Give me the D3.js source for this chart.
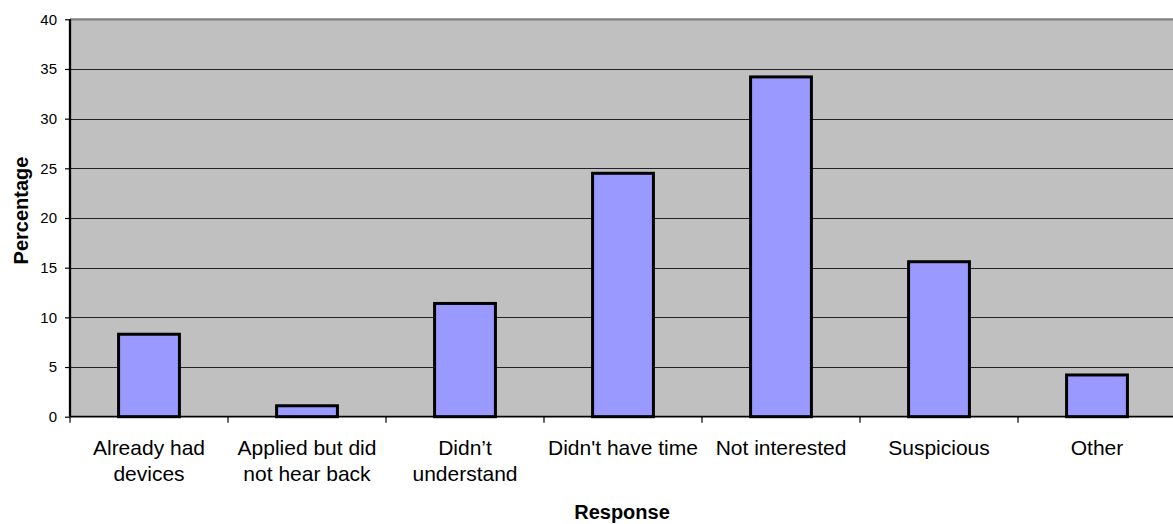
<!DOCTYPE html>
<html><head><meta charset="utf-8">
<script src="https://cdn.jsdelivr.net/npm/d3@7"></script>
<style>body{margin:0;background:#fff}svg{display:block}text{font-family:"Liberation Sans",Arial,sans-serif}</style>
</head><body><svg id="c" width="1173" height="524"></svg>
<script>
const categories = ["Already had|devices","Applied but did|not hear back","Didn’t|understand","Didn't have time","Not interested","Suspicious","Other"];
const values = [8.3, 1.1, 11.4, 24.5, 34.2, 15.6, 4.2];
const yTicks = [0,5,10,15,20,25,30,35,40];
const yTitle = "Percentage";
const xTitle = "Response";

const svg = d3.select("#c");
const L = 70, R = 1176, T = 19.3, B = 416.7;
const x = d3.scaleBand().domain(categories).range([L, R]).padding(0);
const y = d3.scaleLinear().domain([0, 40]).range([B, T]);

svg.append("rect").attr("x", L).attr("y", T).attr("width", R - L).attr("height", B - T).attr("fill", "#c0c0c0");

// gridlines
svg.append("g").selectAll("line").data(yTicks.filter(d => d > 0 && d < 40)).join("line")
  .attr("x1", L).attr("x2", R).attr("y1", d => Math.round(y(d)) + 0.5).attr("y2", d => Math.round(y(d)) + 0.5)
  .attr("stroke", "#222").attr("stroke-width", 1);
// top border
svg.append("line").attr("x1", L).attr("x2", R).attr("y1", T).attr("y2", T).attr("stroke", "#808080").attr("stroke-width", 2.3);

// bars
const bw = x.bandwidth() * 0.385;
svg.append("g").selectAll("rect").data(values).join("rect")
  .attr("x", (d, i) => x(categories[i]) + (x.bandwidth() - bw) / 2)
  .attr("y", d => y(d))
  .attr("width", bw)
  .attr("height", d => y(0) - y(d))
  .attr("fill", "#9999ff").attr("stroke", "#000").attr("stroke-width", 3);

// y axis
const ya = svg.append("g").attr("transform", `translate(${L},0)`)
  .call(d3.axisLeft(y).tickValues(yTicks).tickSize(5).tickPadding(8).tickFormat(d3.format("d")));
ya.attr("font-size", null).attr("font-family", null);
ya.select(".domain").attr("stroke", "#000").attr("stroke-width", 2.3).attr("d", `M0,${T}V${B}`);
ya.selectAll(".tick line").attr("stroke", "#000").attr("stroke-width", 1.2);
ya.selectAll(".tick text").style("font-size", "15px").attr("fill", "#000");

// x axis
const xa = svg.append("g").attr("transform", `translate(0,${B})`)
  .call(d3.axisBottom(x).tickSize(0).tickFormat(""));
xa.select(".domain").attr("stroke", "#000").attr("stroke-width", 1.8).attr("d", `M${L},0H${R}`);
xa.selectAll(".tick line").remove();
const bounds = categories.map((c) => x(c));
svg.append("g").selectAll("line").data(bounds).join("line")
  .attr("x1", d => d).attr("x2", d => d).attr("y1", B).attr("y2", B + 6)
  .attr("stroke", "#000").attr("stroke-width", 1.2);

// x labels
svg.append("g").selectAll("text").data(categories).join("text")
  .attr("x", d => x(d) + x.bandwidth() / 2)
  .attr("y", 455)
  .attr("text-anchor", "middle").style("font-size", "21px").attr("fill", "#000")
  .each(function(d) {
    const lines = d.split("|");
    const t = d3.select(this);
    lines.forEach((ln, i) => t.append("tspan").attr("x", x(d) + x.bandwidth() / 2).attr("dy", i === 0 ? 0 : 25.5).text(ln));
  });

// titles
svg.append("text").attr("x", 622).attr("y", 519).attr("text-anchor", "middle")
  .style("font-size", "20px").attr("font-weight", "bold").text(xTitle);
svg.append("text").attr("transform", "translate(27.5,210.5) rotate(-90)").attr("text-anchor", "middle")
  .style("font-size", "20px").attr("font-weight", "bold").text(yTitle);
</script></body></html>
